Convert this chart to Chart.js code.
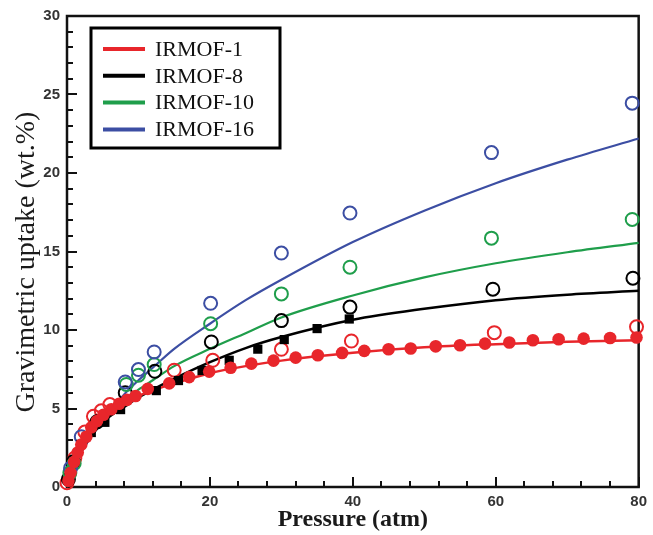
<!DOCTYPE html>
<html>
<head>
<meta charset="utf-8">
<script src="https://cdn.jsdelivr.net/npm/chart.js@4.4.1/dist/chart.umd.min.js"></script>
<style>
  html, body { margin:0; padding:0; background:#fff; }
  #wrap { width:653px; height:535px; }
</style>
</head>
<body>
<div id="wrap"><canvas id="c" width="653" height="535"></canvas></div>
<script>
// ---------- data ----------
const SERIES_NAMES = ['IRMOF-1', 'IRMOF-8', 'IRMOF-10', 'IRMOF-16'];

// fitted curves
const FIT_P      = [0, 1, 2, 4, 6, 8, 10, 12, 15, 20, 25, 30, 40, 50, 60, 70, 80];
const FIT_IRMOF1 = [0, 1.5, 2.6, 4.0, 4.85, 5.4, 5.8, 6.15, 6.6, 7.25, 7.7, 8.05, 8.55, 8.9, 9.1, 9.25, 9.35];
const FIT_IRMOF8 = [0, 1.3, 2.3, 3.6, 4.5, 5.1, 5.7, 6.2, 6.9, 7.95, 8.85, 9.55, 10.65, 11.35, 11.9, 12.25, 12.5];
const FIT_IRMOF10= [0, 1.3, 2.3, 3.7, 4.7, 5.5, 6.2, 6.8, 7.7, 8.8, 9.8, 10.8, 12.2, 13.35, 14.25, 14.95, 15.55];
const FIT_IRMOF16= [0, 1.2, 2.2, 3.6, 4.8, 5.9, 6.8, 7.6, 8.8, 10.4, 11.9, 13.2, 15.6, 17.6, 19.35, 20.85, 22.2];

// IRMOF-1 experimental (filled red circles)
const EXP1_P = [0.2, 0.5, 1, 1.5, 2, 2.7, 3.4, 4.2, 5.1, 6.2, 7.3, 8.4, 9.6, 11.3, 14.3, 17.1, 19.9, 22.9, 25.8, 28.9, 32, 35.1, 38.5, 41.6, 45, 48.1, 51.6, 55, 58.5, 61.9, 65.2, 68.8, 72.3, 76, 79.7];
const EXP1_U = [0.4, 0.9, 1.6, 2.2, 2.7, 3.2, 3.8, 4.2, 4.6, 4.95, 5.3, 5.55, 5.8, 6.25, 6.6, 7.0, 7.35, 7.6, 7.86, 8.05, 8.24, 8.39, 8.54, 8.67, 8.77, 8.82, 8.96, 9.03, 9.13, 9.2, 9.35, 9.41, 9.45, 9.49, 9.52];

// IRMOF-8 experimental (filled black squares)
const EXP8_P = [1.94, 3.4, 5.3, 7.5, 12.5, 15.6, 18.9, 22.7, 26.7, 30.4, 35, 39.5];
const EXP8_U = [2.72, 3.47, 4.12, 4.93, 6.14, 6.78, 7.42, 8.07, 8.78, 9.39, 10.09, 10.7];

// simulated (open circles)
const SIM1_P  = [0, 1.1, 2.5, 3.7, 4.8, 6, 15, 20.4, 30, 39.8, 59.8, 79.7];
const SIM1_U  = [0.27, 1.85, 3.5, 4.5, 4.85, 5.25, 7.44, 8.07, 8.77, 9.3, 9.83, 10.2];
const SIM8_P  = [0.2, 0.9, 4.2, 8.15, 12.3, 20.2, 30, 39.6, 59.6, 79.2];
const SIM8_U  = [0.5, 1.61, 4.15, 6.0, 7.37, 9.24, 10.6, 11.46, 12.6, 13.3];
const SIM10_P = [0.4, 1, 8.3, 10, 12.2, 20.1, 30, 39.6, 59.4, 79.1];
const SIM10_U = [0.9, 1.5, 6.53, 7.12, 7.8, 10.4, 12.3, 14.0, 15.85, 17.04];
const SIM16_P = [0.5, 2, 8.15, 10, 12.2, 20.1, 30, 39.6, 59.4, 79.1];
const SIM16_U = [1.2, 3.2, 6.69, 7.48, 8.6, 11.7, 14.9, 17.45, 21.3, 24.45];

// axes
const X_MIN = 0, X_MAX = 80, X_MAJOR = 20, X_MINOR = 4;
const Y_MIN = 0, Y_MAX = 30, Y_MAJOR = 5, Y_MINOR = 1;

// ---------- styles ----------
const RED = '#e8262b', BLACK = '#000000', GREEN = '#1f9e4b', BLUE = '#3c4ea3';
const COLORS = [RED, BLACK, GREEN, BLUE];

const pts = (xs, ys) => xs.map((x, i) => ({x, y: ys[i]}));

function fitDs(label, ys, color, w) {
  return { type:'line', label, data: pts(FIT_P, ys), borderColor: color, borderWidth: w,
    pointRadius: 0, fill: false, cubicInterpolationMode: 'monotone', order: 10, clip: false };
}
function openDs(label, xs, ys, color) {
  return { type:'scatter', label, data: pts(xs, ys), showLine: false, pointStyle: 'circle',
    pointRadius: 6.5, pointBorderWidth: 2, pointBorderColor: color, pointBackgroundColor: 'rgba(0,0,0,0)',
    borderColor: color, backgroundColor: 'rgba(0,0,0,0)', order: 2, clip: false };
}

const datasets = [
  fitDs(SERIES_NAMES[0], FIT_IRMOF1, RED, 2.5),
  fitDs(SERIES_NAMES[1], FIT_IRMOF8, BLACK, 2.5),
  fitDs(SERIES_NAMES[2], FIT_IRMOF10, GREEN, 2.2),
  fitDs(SERIES_NAMES[3], FIT_IRMOF16, BLUE, 2.2),
  openDs('sim16', SIM16_P, SIM16_U, BLUE),
  openDs('sim10', SIM10_P, SIM10_U, GREEN),
  openDs('sim8', SIM8_P, SIM8_U, BLACK),
  openDs('sim1', SIM1_P, SIM1_U, RED),
  { type:'scatter', label:'exp8', data: pts(EXP8_P, EXP8_U), showLine:false, pointStyle:'rect',
    pointRadius: 6.5, pointBorderWidth: 0, pointBackgroundColor: BLACK, backgroundColor: BLACK, order: 1, clip:false },
  { type:'scatter', label:'exp1', data: pts(EXP1_P, EXP1_U), showLine:false, pointStyle:'circle',
    pointRadius: 6.3, pointBorderWidth: 0, pointBackgroundColor: RED, backgroundColor: RED, order: 0, clip:false },
];

// frame + inward ticks
const frameTicks = {
  id: 'frameTicks',
  beforeDatasetsDraw(chart) {
    const {ctx, chartArea: a, scales: {x, y}} = chart;
    ctx.save();
    ctx.strokeStyle = '#111';
    ctx.lineWidth = 2;
    ctx.beginPath();
    for (let v = X_MIN; v <= X_MAX; v += X_MINOR) {
      const px = Math.round(x.getPixelForValue(v));
      const len = (v % X_MAJOR === 0) ? 10 : 6;
      ctx.moveTo(px, a.bottom); ctx.lineTo(px, a.bottom - len);
    }
    for (let v = Y_MIN; v <= Y_MAX; v += Y_MINOR) {
      const py = Math.round(y.getPixelForValue(v));
      const len = (v % Y_MAJOR === 0) ? 10 : 6;
      ctx.moveTo(a.left, py); ctx.lineTo(a.left + len, py);
    }
    ctx.stroke();
    ctx.lineWidth = 2.5;
    ctx.strokeRect(a.left, a.top, a.right - a.left, a.bottom - a.top);
    ctx.restore();
  }
};

// legend box inside the plot
const boxLegend = {
  id: 'boxLegend',
  afterDraw(chart) {
    const {ctx, chartArea: a} = chart;
    const bx = a.left + 24, by = a.top + 12, bw = 189, bh = 120;
    ctx.save();
    ctx.fillStyle = '#fff';
    ctx.fillRect(bx, by, bw, bh);
    ctx.lineWidth = 3;
    ctx.strokeStyle = '#000';
    ctx.strokeRect(bx, by, bw, bh);
    ctx.font = '22px "Liberation Serif", "Times New Roman", serif';
    ctx.textBaseline = 'middle';
    ctx.fillStyle = '#111';
    SERIES_NAMES.forEach((name, i) => {
      const cy = by + 21 + i * 26.8;
      ctx.strokeStyle = COLORS[i];
      ctx.lineWidth = 4;
      ctx.beginPath();
      ctx.moveTo(bx + 12, cy); ctx.lineTo(bx + 54, cy);
      ctx.stroke();
      ctx.fillText(name, bx + 64, cy + 1);
    });
    ctx.restore();
  }
};

new Chart(document.getElementById('c'), {
  data: { datasets },
  options: {
    responsive: false,
    animation: false,
    layout: { padding: { left: 0, right: 8, top: 15, bottom: 0 } },
    plugins: { legend: { display: false }, tooltip: { enabled: false } },
    scales: {
      x: {
        type: 'linear', min: X_MIN, max: X_MAX,
        grid: { display: false, drawTicks: false },
        border: { display: false },
        ticks: { stepSize: X_MAJOR, padding: 6, color: '#333',
          font: { family: '"Liberation Sans", Arial, sans-serif', size: 15, weight: 'bold' } },
        title: { display: true, text: 'Pressure (atm)', color: '#1a1a1a',
          font: { family: '"Liberation Serif", "Times New Roman", serif', size: 24, weight: 'bold' },
          padding: { top: 0, bottom: 1 } },
        afterFit(s) { s.height = 48; }
      },
      y: {
        type: 'linear', min: Y_MIN, max: Y_MAX,
        grid: { display: false, drawTicks: false },
        border: { display: false },
        ticks: { stepSize: Y_MAJOR, padding: 7, color: '#333',
          font: { family: '"Liberation Sans", Arial, sans-serif', size: 15, weight: 'bold' } },
        title: { display: true, text: 'Gravimetric uptake (wt.%)   ', color: '#1a1a1a',
          font: { family: '"Liberation Serif", "Times New Roman", serif', size: 28, weight: 'normal' },
          padding: { top: 10, bottom: 0 } },
        afterFit(s) { s.width = 67; }
      }
    }
  },
  plugins: [frameTicks, boxLegend]
});
</script>
</body>
</html>
